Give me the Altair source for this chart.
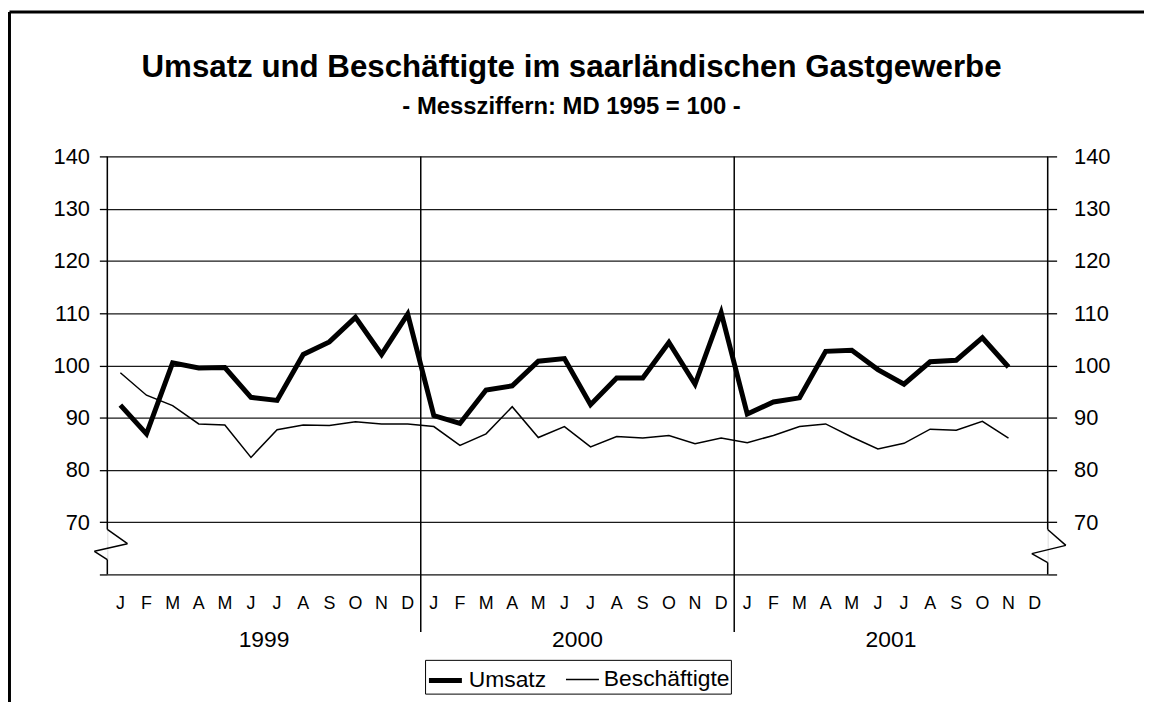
import altair as alt
import pandas as pd

# ---- data ----
years = ["1999", "2000", "2001"]
month_letters = ["J", "F", "M", "A", "M", "J", "J", "A", "S", "O", "N", "D"]
umsatz = [92.4, 86.9, 100.5, 99.5, 99.6, 93.9, 93.3, 102.1, 104.5, 109.2, 102.1, 109.8,
          90.4, 88.9, 95.3, 96.1, 100.8, 101.3, 92.5, 97.6, 97.6, 104.4, 96.4, 110.1,
          90.7, 93.0, 93.8, 102.7, 102.9, 99.2, 96.4, 100.7, 101.0, 105.3, 99.7, None]
beschaeftigte = [98.6, 94.3, 92.3, 88.8, 88.6, 82.4, 87.7, 88.6, 88.5, 89.2, 88.8, 88.8,
                 88.3, 84.7, 86.9, 92.1, 86.2, 88.3, 84.4, 86.4, 86.1, 86.6, 85.0, 86.1,
                 85.2, 86.6, 88.3, 88.8, 86.3, 84.0, 85.1, 87.8, 87.6, 89.3, 86.1, None]
series_names = ["Umsatz", "Beschäftigte"]
y_ticks = [60, 70, 80, 90, 100, 110, 120, 130, 140]
title_text = "Umsatz und Beschäftigte im saarländischen Gastgewerbe"
subtitle_text = "- Messziffern: MD 1995 = 100 -"

FONT = "Liberation Sans"
W, H = 947, 421
n_months = len(years) * len(month_letters)

rows = []
for name, vals in zip(series_names, [umsatz, beschaeftigte]):
    for i, v in enumerate(vals):
        if v is not None:
            rows.append({"series": name, "t": i + 0.5, "value": v})
df = pd.DataFrame(rows)

months_df = pd.DataFrame({
    "t": [i + 0.5 for i in range(n_months)],
    "m": [month_letters[i % 12] for i in range(n_months)],
})
years_df = pd.DataFrame({"t": [12 * k + 6 for k in range(len(years))], "year": years})
sep_df = pd.DataFrame({"t": [12 * k for k in range(1, len(years))]})
titles_df = pd.DataFrame({"txt": [title_text]})
subtitles_df = pd.DataFrame({"txt": [subtitle_text]})

xscale = alt.Scale(domain=[0, n_months], nice=False, zero=False)
yscale = alt.Scale(domain=[60, 140], nice=False, zero=False)

label_expr = "datum.value == 60 ? '' : datum.label"

left_axis = alt.Axis(values=y_ticks, grid=True, gridColor="#1a1a1a", gridWidth=1.3,
                     domain=False, ticks=True, tickSize=8, tickColor="black", tickWidth=1.3,
                     labelPadding=10, labelFontSize=22, labelFont=FONT, labelColor="black",
                     labelExpr=label_expr, title=None)
right_axis = alt.Axis(orient="right", values=y_ticks, grid=False, domain=False,
                      ticks=True, tickSize=9, tickColor="black", tickWidth=1.3,
                      labelPadding=17, labelFontSize=22, labelFont=FONT, labelColor="black",
                      labelExpr=label_expr, title=None)
x_axis = alt.Axis(values=list(range(n_months + 1)), labels=False, grid=False,
                  domain=True, domainColor="black", domainWidth=1.3,
                  ticks=True, tickSize=6, tickColor="black", tickWidth=1.3, title=None)

legend = alt.Legend(title=None, orient="none", legendX=320, legendY=507,
                    direction="horizontal", strokeColor="black", padding=1,
                    labelFontSize=23, labelFont=FONT, labelColor="black", labelLimit=400,
                    symbolType="stroke", symbolSize=1100, symbolStrokeColor="black",
                    columnPadding=16, labelOffset=4)

lines = alt.Chart(df).mark_line(color="black", strokeJoin="miter").encode(
    x=alt.X("t:Q", scale=xscale, axis=x_axis),
    y=alt.Y("value:Q", scale=yscale, axis=left_axis),
    strokeWidth=alt.StrokeWidth("series:N",
                                scale=alt.Scale(domain=series_names, range=[5, 1.5]),
                                legend=legend),
    detail="series:N",
    order=alt.Order("t:Q"),
)

right = alt.Chart(df).mark_point(opacity=0).encode(
    x=alt.X("t:Q", scale=xscale, axis=None),
    y=alt.Y("value:Q", scale=yscale, axis=right_axis),
)

seps = alt.Chart(sep_df).mark_rule(color="black", strokeWidth=1.5).encode(
    x=alt.X("t:Q", scale=xscale, axis=None),
    y=alt.value(0), y2=alt.value(479),
)

month_text = alt.Chart(months_df).mark_text(font=FONT, fontSize=18, color="black",
                                            baseline="middle", align="center").encode(
    x=alt.X("t:Q", scale=xscale, axis=None),
    y=alt.value(451),
    text="m:N",
)

year_text = alt.Chart(years_df).mark_text(font=FONT, fontSize=23, color="black",
                                          baseline="middle", align="center").encode(
    x=alt.X("t:Q", scale=xscale, axis=None),
    y=alt.value(487),
    text="year:N",
)

title_mark = alt.Chart(titles_df).mark_text(font=FONT, fontSize=31.5, fontWeight="bold",
                                            color="black", baseline="middle",
                                            align="center").encode(
    x=alt.value(467.5), y=alt.value(-89), text="txt:N")
subtitle_mark = alt.Chart(subtitles_df).mark_text(font=FONT, fontSize=24, fontWeight="bold",
                                                  color="black", baseline="middle",
                                                  align="center").encode(
    x=alt.value(467.5), y=alt.value(-50), text="txt:N")

# axis lines with the break zig-zag, and the outer frame (decoration, pixel positions)
segments = [
    (0, 0, 0, 375.7, 1.5), (0, 375.7, 20.3, 390, 1.5), (20.3, 390, -13, 397.7, 1.5),
    (-13, 397.7, 0, 406, 1.5), (0, 406, 0, H, 1.5),
    (W, 0, W, 375.7, 1.5), (W, 375.7, W + 18.3, 391.7, 1.5), (W + 18.3, 391.7, W - 16, 400, 1.5),
    (W - 16, 400, W, 409, 1.5), (W, 409, W, H, 1.5),
    (-98.5, -145.5, 1044, -145.5, 3), (-98.5, -145.5, -98.5, 550, 3),
]

one = pd.DataFrame({"d": [0]})
deco = []
for (x1, y1, x2, y2, sw) in segments:
    deco.append(alt.Chart(one).mark_rule(color="black", strokeWidth=sw).encode(
        x=alt.value(x1), y=alt.value(y1), x2=alt.value(x2), y2=alt.value(y2)))

chart = alt.layer(lines, right, seps, month_text, year_text, title_mark, subtitle_mark,
                  *deco).resolve_axis(y="independent").resolve_scale(y="shared").properties(
    width=W, height=H,
    autosize=alt.AutoSizeParams(type="none"),
    padding={"left": 100, "top": 147, "right": 97, "bottom": 126},
).configure_view(strokeWidth=0).configure(background="white")

chart.save("out.html", embed_options={"renderer": "svg", "actions": False})
